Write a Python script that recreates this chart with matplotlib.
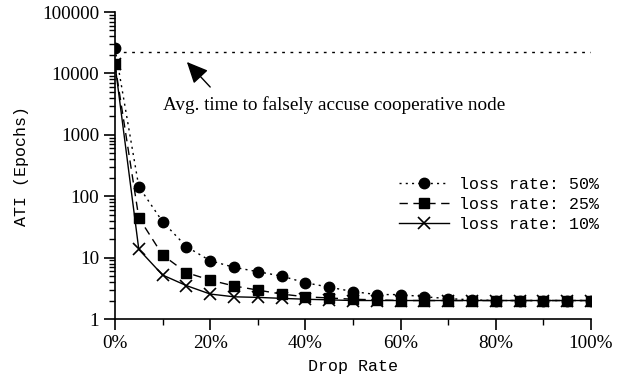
import matplotlib
matplotlib.use("Agg")
import matplotlib.pyplot as plt
from matplotlib.ticker import FixedLocator, LogLocator, NullFormatter, FuncFormatter

drop_rate = [0, 5, 10, 15, 20, 25, 30, 35, 40, 45, 50, 55, 60, 65, 70, 75, 80, 85, 90, 95, 100]
loss50 = [25700, 143, 38.4, 15.1, 8.9, 6.95, 5.9, 5.0, 3.9, 3.3, 2.8, 2.5, 2.5, 2.3, 2.15, 2.05, 2.0, 2.0, 2.0, 2.0, 2.0]
loss25 = [14000, 44.6, 11.0, 5.7, 4.3, 3.45, 2.96, 2.55, 2.3, 2.2, 2.1, 2.05, 2.0, 2.0, 2.0, 2.0, 2.0, 2.0, 2.0, 2.0, 2.0]
loss10 = [14000, 13.6, 5.2, 3.5, 2.55, 2.3, 2.25, 2.17, 2.1, 2.05, 2.0, 2.0, 2.0, 2.0, 2.0, 2.0, 2.0, 2.0, 2.0, 2.0, 2.0]
false_accuse_time = 22300
series_labels = ["loss rate: 50%", "loss rate: 25%", "loss rate: 10%"]
annotation = "Avg. time to falsely accuse cooperative node"

serif = "Liberation Serif"
mono = "Liberation Mono"

fig = plt.figure(figsize=(6.23, 3.81), dpi=100)
ax = fig.add_axes([0.1846, 0.1627, 0.9486 - 0.1846, 0.9685 - 0.1627])

ax.plot(drop_rate, loss50, linestyle=(0, (1.5, 3)), color="black", lw=1.0,
        marker="o", markersize=7.5, label=series_labels[0])
ax.plot(drop_rate, loss25, linestyle=(0, (6, 4)), color="black", lw=1.0,
        marker="s", markersize=7.5, label=series_labels[1])
ax.plot(drop_rate, loss10, linestyle="-", color="black", lw=1.0,
        marker="x", markersize=8, markeredgewidth=1.2, label=series_labels[2])

ax.plot([drop_rate[0], drop_rate[-1]], [false_accuse_time, false_accuse_time],
        linestyle=(0, (2, 4)), color="black", lw=1.0)

ax.set_yscale("log")
ax.set_ylim(1, 100000)
ax.set_xlim(0, 100)

ax.xaxis.set_major_locator(FixedLocator([0, 20, 40, 60, 80, 100]))
ax.xaxis.set_minor_locator(FixedLocator([10, 30, 50, 70, 90]))
ax.xaxis.set_major_formatter(FuncFormatter(lambda v, p: f"{int(round(v))}%"))
ax.yaxis.set_major_locator(LogLocator(base=10, numticks=10))
ax.yaxis.set_minor_locator(LogLocator(base=10, subs=range(2, 10), numticks=20))
ax.yaxis.set_minor_formatter(NullFormatter())
ax.yaxis.set_major_formatter(FuncFormatter(lambda v, p: f"{int(round(v))}"))

for s in ["top", "right"]:
    ax.spines[s].set_visible(False)
for s in ["left", "bottom"]:
    ax.spines[s].set_linewidth(1.2)

ax.tick_params(axis="both", which="major", direction="out", length=8, width=1.2, labelsize=13.8)
ax.tick_params(axis="both", which="minor", direction="out", length=4, width=1.0)
for lab in ax.get_xticklabels() + ax.get_yticklabels():
    lab.set_fontfamily(serif)

ax.set_xlabel("Drop Rate", fontfamily=mono, fontsize=12, labelpad=5)
ax.set_ylabel("ATI (Epochs)", fontfamily=mono, fontsize=12, labelpad=9)

ax.annotate("", xy=(15.1, 15350), xytext=(20, 6000),
            arrowprops=dict(arrowstyle="-|>,head_length=1.3,head_width=0.6", color="black",
                            lw=1.0, shrinkA=0, shrinkB=0))
ax.text(10, 3050, annotation, fontfamily=serif, fontsize=13.8, va="center", ha="left")

leg = ax.legend(loc="upper left", bbox_to_anchor=(0.583, 0.485), frameon=False,
                prop={"family": mono, "size": 12}, handlelength=3.0, handletextpad=0.6,
                labelspacing=0.3, borderaxespad=0)

fig.savefig("out.png", dpi=100)
